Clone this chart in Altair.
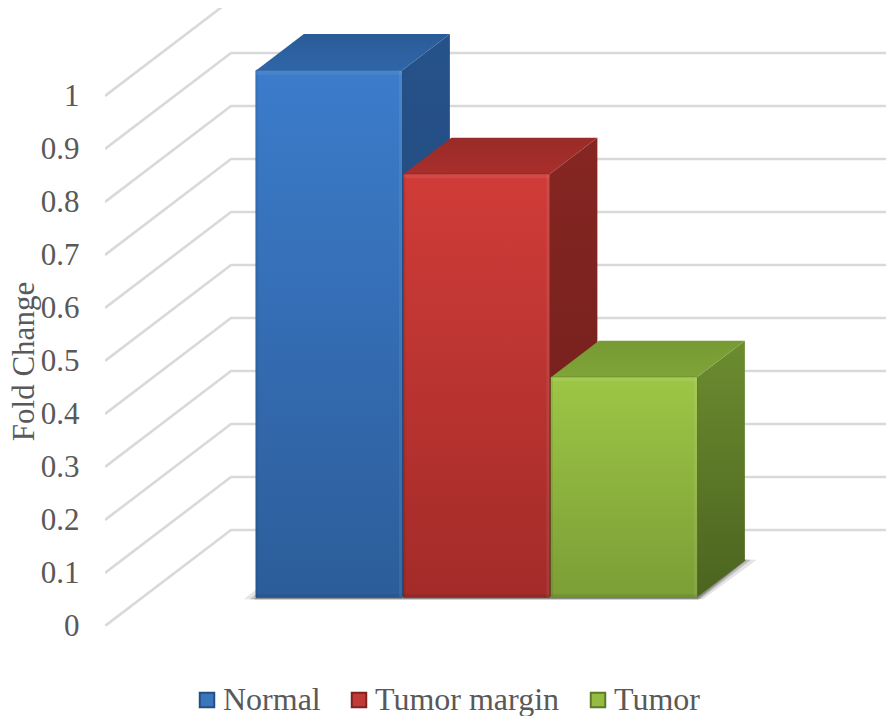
import altair as alt
import pandas as pd

categories = ["Normal", "Tumor margin", "Tumor"]
values = [0.994, 0.798, 0.415]
ticks = [0, 0.1, 0.2, 0.3, 0.4, 0.5, 0.6, 0.7, 0.8, 0.9, 1]
solid = ["#3a76bd", "#c23a36", "#94bb42"]
edge = ["#24507f", "#7d2321", "#5d7a2a"]
front_top = ["#3c7ccb", "#d03c38", "#9dc646"]
front_bottom = ["#2c5d9a", "#a32b29", "#7c9e36"]
side_top = ["#26528a", "#862622", "#6c8c30"]
side_bottom = ["#1f4474", "#6c1d1b", "#4b641f"]
top_back = ["#2a5b98", "#9a2b28", "#779a33"]
top_front = ["#2f66a8", "#a82e2b", "#7fa437"]

W, H = 781, 618          # plot size
UNIT = 530               # pixels per 1.0 fold change
DX, DY = 126, 96         # wall depth in pixels
FLOOR = 0.30             # front of the bars, as a share of wall depth
BAR_D = 0.38             # bar depth, same share
BAR_X0, BAR_W, BAR_STEP = 151, 146, 147.5

def vy(v, d):
    return v + DY / UNIT * d

x_scale = alt.Scale(domain=[0, W], nice=False, zero=False)
y_scale = alt.Scale(domain=[0, H / UNIT], nice=False, zero=False)
X = alt.X("x:Q", scale=x_scale, axis=None)
Y = alt.Y("y:Q", scale=y_scale)
GREY = "#595959"
FONT = "Liberation Serif"

def grad(stops):
    return alt.Gradient(
        gradient="linear", x1=0, x2=0, y1=0, y2=1,
        stops=[alt.GradientStop(offset=o, color=c) for o, c in stops],
    )

grid_rows = []
for t in ticks:
    grid_rows += [
        {"tick": t, "x": 0, "y": t},
        {"tick": t, "x": DX, "y": vy(t, 1)},
        {"tick": t, "x": W, "y": vy(t, 1)},
    ]
grid = alt.Chart(pd.DataFrame(grid_rows)).mark_line(
    color="#d9d9d9", strokeWidth=2.6, clip=True
).encode(
    x=X,
    y=alt.Y(
        "y:Q", scale=y_scale,
        axis=alt.Axis(
            values=ticks, title="Fold Change", grid=False, domain=False, ticks=False,
            labelPadding=26, labelFont=FONT, labelFontSize=31, labelColor=GREY,
            labelOverlap=False, labelBound=False, labelFlush=False, format="~g",
            titleFont=FONT, titleFontSize=31, titleColor=GREY, titleFontWeight="normal",
            titleX=-65, titleY=353,
        ),
    ),
    detail="tick:N",
)

lefts = [BAR_X0 + i * BAR_STEP for i in range(3)]
right_end = lefts[-1] + BAR_W
D_END = FLOOR + BAR_D

# floor shadow: a soft outer band and a darker inner one
shadow_layers = []
for grow, col in [(12, "#e4e4e4"), (6, "#bdbdbd"), (2, "#8c8c8c")]:
    shadow_df = pd.DataFrame([
        {"y": vy(-0.004, FLOOR), "x": lefts[0] - grow, "x2": right_end + grow / 2},
        {"y": vy(0.002, D_END), "x": lefts[0] + DX * BAR_D - grow, "x2": right_end + DX * BAR_D + grow},
    ])
    shadow_layers.append(
        alt.Chart(shadow_df).mark_area(orient="horizontal", color=col).encode(y=Y, x=X, x2="x2:Q")
    )

side_layers, top_layers, base_layers, front_layers, bevel_layers = [], [], [], [], []
for i, (cat, v) in enumerate(zip(categories, values)):
    L = lefts[i]
    R = L + BAR_W
    side_df = pd.DataFrame([
        {"x": R, "y": vy(v, FLOOR), "y2": vy(0, FLOOR)},
        {"x": R + DX * BAR_D, "y": vy(v, D_END), "y2": vy(0, D_END)},
    ])
    side_layers.append(
        alt.Chart(side_df).mark_area(
            color=grad([(0, side_top[i]), (1, side_bottom[i])])
        ).encode(x=X, y=Y, y2="y2:Q")
    )
    top_df = pd.DataFrame([
        {"y": vy(v, FLOOR), "x": L, "x2": R},
        {"y": vy(v, D_END), "x": L + DX * BAR_D, "x2": R + DX * BAR_D},
    ])
    top_layers.append(
        alt.Chart(top_df).mark_area(
            orient="horizontal",
            color=grad([(0, top_back[i]), (1, top_front[i])]),
        ).encode(y=Y, x=X, x2="x2:Q")
    )
    front_df = pd.DataFrame([{
        "category": cat, "x": L, "x2": R, "y": vy(v, FLOOR), "y2": vy(0, FLOOR)
    }])
    base_layers.append(front_df)
    front_layers.append(
        alt.Chart(front_df).mark_rect(
            color=grad([(0, front_top[i]), (1, front_bottom[i])])
        ).encode(x=X, x2="x2:Q", y=Y, y2="y2:Q")
    )
    # soft bevel: dark left and bottom edge, light right and top edge
    strips = pd.DataFrame([
        {"tone": "dark", "x": L, "x2": L + 2, "y": vy(v, FLOOR), "y2": vy(0, FLOOR)},
        {"tone": "dark", "x": L, "x2": R, "y": vy(3 / UNIT, FLOOR), "y2": vy(0, FLOOR)},
        {"tone": "light", "x": R - 3, "x2": R, "y": vy(v, FLOOR), "y2": vy(0, FLOOR)},
        {"tone": "light", "x": L, "x2": R, "y": vy(v, FLOOR), "y2": vy(v - 4 / UNIT, FLOOR)},
    ])
    bevel_layers.append(
        alt.Chart(strips).mark_rect(opacity=0.07).encode(
            x=X, x2="x2:Q", y=Y, y2="y2:Q",
            fill=alt.Fill("tone:N", scale=alt.Scale(domain=["dark", "light"], range=["#000000", "#ffffff"]), legend=None),
        )
    )

legend_spec = dict(
    title=None, orient="none", legendX=86, legendY=676, direction="horizontal",
    columns=3, columnPadding=22, symbolType="square", symbolSize=210,
    symbolStrokeWidth=2, labelFont=FONT, labelFontSize=32, labelColor=GREY,
    labelOffset=0, labelLimit=400,
)
legend_base = alt.Chart(pd.concat(base_layers)).mark_rect().encode(
    x=X, x2="x2:Q", y=Y, y2="y2:Q",
    color=alt.Color(
        "category:N",
        scale=alt.Scale(domain=categories, range=solid),
        legend=alt.Legend(**legend_spec),
    ),
    stroke=alt.Stroke(
        "category:N",
        scale=alt.Scale(domain=categories, range=edge),
        legend=alt.Legend(**legend_spec),
    ),
)

chart = alt.layer(
    grid, *shadow_layers, *side_layers, *top_layers, legend_base, *front_layers, *bevel_layers
).properties(
    width=W, height=H,
    autosize=alt.AutoSizeParams(type="none"),
    padding={"left": 97, "top": 0, "right": 0, "bottom": 90},
    background="white",
).configure_view(stroke=None)

chart.save("out.html", embed_options={"renderer": "svg", "actions": False})
